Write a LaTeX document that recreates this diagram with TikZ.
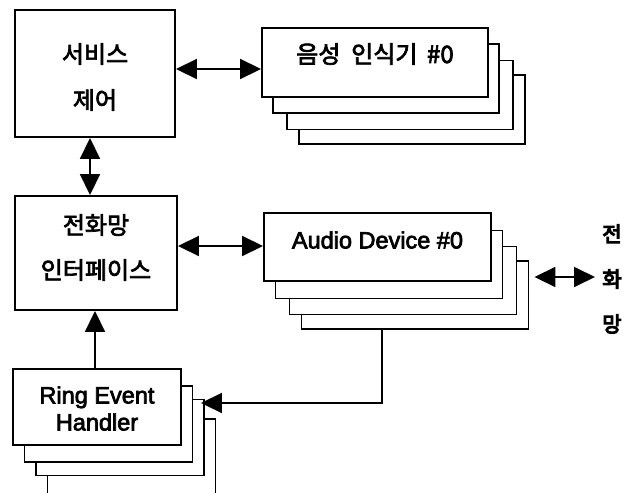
\documentclass[tikz,border=0pt]{standalone}
\usepackage{fontspec}
\setmainfont{Liberation Sans}
\newfontfamily\enf{Liberation Sans}
\newfontfamily\kr{Noto Sans CJK KR}
\newcommand\thk[1]{\special{pdf:code q 2 Tr 0.7 w}#1\special{pdf:code Q}}
\newcommand\thkk[1]{\special{pdf:code q 2 Tr 1.1 w}#1\special{pdf:code Q}}
\usetikzlibrary{arrows.meta}
\tikzset{
  box/.style={draw, line width=1.9pt, fill=white, inner sep=0pt},
  svcbox/.style={box, minimum width=160pt, minimum height=127pt},
  asrbox/.style={box, minimum width=226pt, minimum height=69pt},
  telbox/.style={box, minimum width=162pt, minimum height=114pt},
  audbox/.style={box, minimum width=227pt, minimum height=68pt},
  ringbox/.style={box, minimum width=168pt, minimum height=76pt},
  krtxt/.style={font=\kr\fontsize{24}{27}\selectfont, inner sep=0pt},
  entxt/.style={font=\enf\fontsize{23.5}{27}\selectfont, inner sep=0pt, align=center},
  sidetxt/.style={font=\kr\fontsize{21}{45}\selectfont, align=center, inner sep=0pt},
  conn/.style={line width=1.8pt},
  dbl/.style={conn, {Triangle[length=21pt,width=20pt]}-{Triangle[length=21pt,width=20pt]}},
  single/.style={conn, -{Triangle[length=21pt,width=20pt]}}
}
\begin{document}
\begin{tikzpicture}[x=1pt,y=-1pt]
\useasboundingbox (0,0) rectangle (633,493);
% helper coordinates
\coordinate (y69) at (0,69);
\coordinate (x90) at (90,0);
\coordinate (y246) at (0,246);
\coordinate (x95) at (95,0);
\coordinate (x382) at (382,0);
\coordinate (y403) at (0,403);
\coordinate (y277) at (0,277);
\coordinate (netend) at (595,277);

% service control
\node[svcbox] (svc) at (95,73.5) {};
\node[krtxt] (svcA) at (95,54) {\thk{서비스}};
\node[krtxt] (svcB) at (95,100) {\thk{제어}};

% speech recognizer stack
\node[asrbox] (asr4) at (412,109.5) {};
\node[asrbox] (asr3) at (400,95) {};
\node[asrbox] (asr2) at (386,78.5) {};
\node[asrbox] (asr1) at (375,62.5) {};
\node[krtxt] (asrT) at (375,54) {\thk{음성\hspace{0.45em}인식기\hspace{0.4em}\#0}};

% telephone network interface
\node[telbox] (tel) at (96,253) {};
\node[krtxt] (telA) at (96,225) {\thk{전화망}};
\node[krtxt] (telB) at (96,270) {\thk{인터페이스}};

% audio device stack
\node[audbox] (aud4) at (415,295) {};
\node[audbox] (aud3) at (403,280.5) {};
\node[audbox] (aud2) at (389,264.5) {};
\node[audbox] (aud1) at (377.5,247) {};
\node[entxt] (audT) at (377.5,240) {\thk{Audio Device \#0}};

% ring event handler stack
\node[ringbox] (ring4) at (131.5,457) {};
\node[ringbox] (ring3) at (120,437.5) {};
\node[ringbox] (ring2) at (108.5,424) {};
\node[ringbox] (ring1) at (97,407) {};
\node[entxt] (ringT) at (97,408.5) {\thk{Ring Event}\\\thk{Handler}};

% side label
\node[sidetxt] (net) at (612,279) {\thkk{전}\\\thkk{화}\\\thkk{망}};

% connectors
\draw[dbl] (svc.east |- y69) -- (asr1.west |- y69);
\draw[dbl] (x90 |- svc.south) -- (x90 |- tel.north);
\draw[dbl] (tel.east |- y246) -- (aud1.west |- y246);
\draw[single] (x95 |- ring1.north) -- (x95 |- tel.south);
\draw[single, shorten >=-4pt] (x382 |- aud4.south) -- (x382 |- y403) -- (ring3.east |- y403);
\draw[dbl, shorten <=5pt] (aud4.east |- y277) -- (netend);
\end{tikzpicture}
\end{document}
